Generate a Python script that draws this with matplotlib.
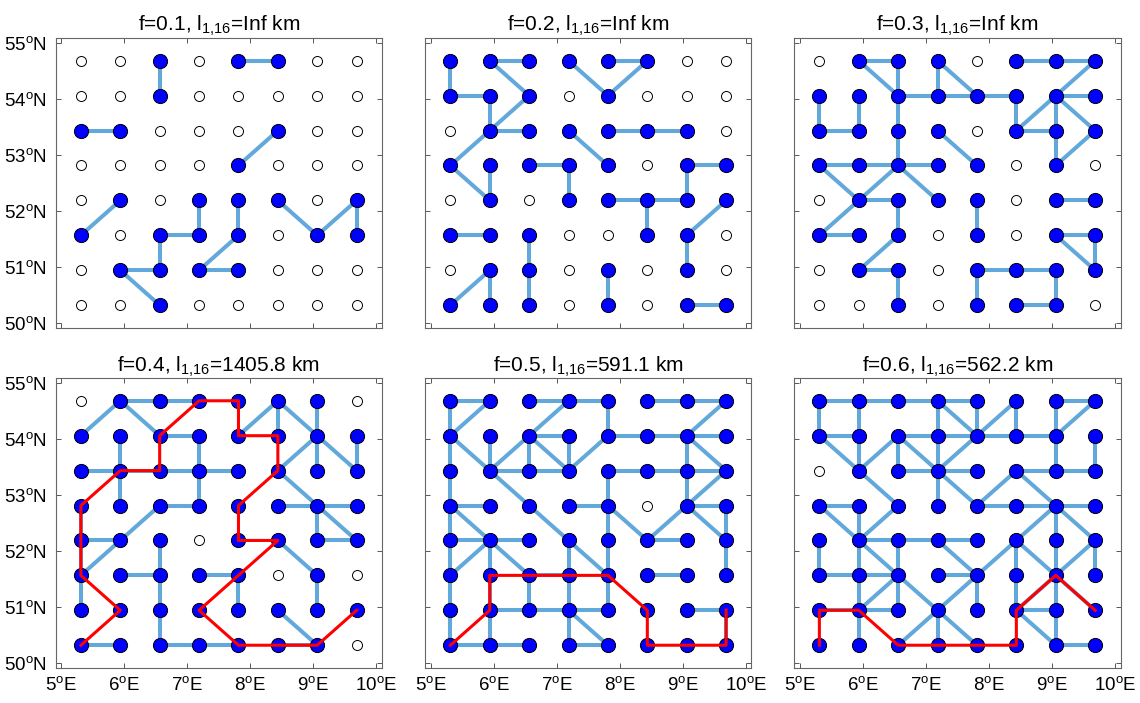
import matplotlib
matplotlib.use('Agg')
import matplotlib.pyplot as plt

plt.rcParams['font.family'] = ['Liberation Sans', 'DejaVu Sans']
plt.rcParams['mathtext.fontset'] = 'custom'
plt.rcParams['mathtext.rm'] = 'Liberation Sans'
plt.rcParams['mathtext.it'] = 'Liberation Sans:italic'

# grid node centres (8 x 8)
lons = [5.3125, 5.9375, 6.5625, 7.1875, 7.8125, 8.4375, 9.0625, 9.6875]
lats = [50.3125, 50.9375, 51.5625, 52.1875, 52.8125, 53.4375, 54.0625, 54.6875]

fractions = [0.1, 0.2, 0.3, 0.4, 0.5, 0.6]
path_lengths = ['Inf', 'Inf', 'Inf', '1405.8', '591.1', '562.2']

# active nodes, rows listed from top (north) to bottom (south)
active1 = ['00101100', '00100000', '11000100', '00001000',
           '01011101', '10111011', '01111000', '00100000']
active2 = ['11111100', '11101000', '01111110', '11111011',
           '01011111', '11100110', '01101010', '11101011']
active3 = ['01110111', '11111111', '11110111', '11111010',
           '01111011', '11101011', '01101111', '00101110']
active4 = ['01111110', '11111111', '11111111', '11111111',
           '11101111', '11111010', '11111111', '11111110']
active5 = ['11111111', '11111111', '11111111', '11111011',
           '11111111', '11111111', '11111111', '11111111']
active6 = ['11111111', '11111111', '01111111', '11111111',
           '11111111', '11111111', '11111111', '11111111']

# links as (col1, row1, col2, row2), row 0 = south
links1 = [(2, 7, 2, 6), (4, 7, 5, 7), (0, 5, 1, 5), (4, 4, 5, 5), (0, 2, 1, 3),
          (3, 3, 3, 2), (2, 2, 3, 2), (2, 2, 2, 1), (1, 1, 2, 1), (1, 1, 2, 0),
          (4, 3, 4, 2), (3, 1, 4, 2), (3, 1, 4, 1), (5, 3, 6, 2), (6, 2, 7, 3),
          (7, 3, 7, 2)]
links2 = [(0, 7, 0, 6), (1, 7, 2, 7), (1, 7, 2, 6), (3, 7, 4, 6), (4, 7, 5, 7),
          (4, 6, 5, 7), (0, 6, 1, 6), (1, 6, 1, 5), (2, 6, 1, 5), (1, 5, 2, 5),
          (1, 5, 0, 4), (0, 4, 1, 3), (1, 4, 1, 3), (2, 4, 3, 4), (3, 4, 3, 3),
          (3, 5, 4, 4), (4, 5, 5, 5), (5, 5, 6, 5), (6, 4, 7, 4), (6, 4, 6, 3),
          (4, 3, 5, 3), (5, 3, 6, 3), (5, 3, 5, 2), (7, 3, 6, 2), (6, 2, 6, 1),
          (0, 2, 1, 2), (2, 2, 2, 1), (2, 1, 2, 0), (1, 1, 0, 0), (1, 1, 1, 0),
          (4, 1, 4, 0), (6, 0, 7, 0)]
links3 = [(1, 7, 2, 7), (1, 7, 2, 6), (2, 7, 2, 6), (3, 7, 3, 6), (3, 7, 4, 6),
          (5, 7, 6, 7), (6, 7, 7, 7), (7, 7, 6, 6), (2, 6, 3, 6), (3, 6, 4, 6),
          (4, 6, 5, 6), (6, 6, 7, 6), (0, 6, 0, 5), (1, 6, 1, 5), (0, 5, 1, 5),
          (2, 6, 2, 5), (2, 5, 2, 4), (5, 6, 5, 5), (5, 5, 6, 6), (5, 5, 6, 5),
          (6, 6, 6, 5), (6, 6, 7, 5), (6, 5, 6, 4), (7, 5, 6, 4), (3, 5, 4, 4),
          (0, 4, 1, 4), (1, 4, 2, 4), (2, 4, 3, 4), (0, 4, 1, 3), (2, 4, 1, 3),
          (2, 4, 3, 3), (1, 3, 2, 3), (1, 3, 0, 2), (2, 3, 2, 2), (0, 2, 1, 2),
          (2, 2, 1, 1), (1, 1, 2, 1), (2, 1, 2, 0), (4, 3, 4, 2), (6, 3, 7, 3),
          (6, 2, 7, 2), (6, 2, 7, 1), (7, 2, 7, 1), (4, 1, 5, 1), (5, 1, 6, 1),
          (4, 1, 4, 0), (6, 1, 6, 0), (5, 0, 6, 0)]
links4 = [(0, 6, 1, 7), (1, 7, 2, 7), (2, 7, 3, 7), (1, 7, 2, 6), (2, 6, 3, 6),
          (3, 6, 3, 5), (1, 6, 1, 5), (0, 5, 1, 5), (1, 5, 2, 5), (2, 5, 3, 5),
          (3, 5, 4, 5), (1, 5, 1, 4), (3, 5, 3, 4), (2, 4, 3, 4), (2, 4, 1, 3),
          (1, 3, 0, 2), (0, 3, 1, 3), (0, 4, 0, 3), (0, 3, 0, 2), (0, 2, 0, 1),
          (0, 0, 1, 0), (1, 2, 2, 2), (2, 3, 2, 2), (2, 2, 2, 1), (2, 1, 2, 0),
          (2, 0, 3, 0), (3, 0, 4, 0), (3, 2, 4, 2), (4, 2, 4, 1), (4, 6, 5, 7),
          (5, 7, 5, 6), (5, 7, 6, 6), (6, 7, 6, 6), (6, 6, 6, 5), (6, 6, 5, 5),
          (6, 6, 7, 5), (7, 6, 7, 5), (5, 5, 6, 4), (5, 4, 6, 4), (6, 4, 7, 4),
          (6, 4, 6, 3), (6, 4, 7, 3), (6, 3, 7, 3), (5, 3, 6, 2), (6, 2, 6, 1),
          (5, 1, 6, 0), (5, 0, 6, 0)]
links5 = [(0, 7, 1, 7), (0, 7, 0, 6), (1, 7, 0, 6), (2, 7, 3, 7), (3, 7, 4, 7),
          (3, 7, 2, 6), (4, 7, 4, 6), (5, 7, 6, 7), (6, 7, 7, 7), (7, 7, 6, 6),
          (2, 6, 3, 6), (2, 6, 1, 5), (2, 6, 2, 5), (2, 6, 3, 5), (3, 6, 3, 5),
          (3, 5, 4, 6), (4, 6, 5, 6), (5, 6, 6, 6), (6, 6, 7, 6), (6, 6, 6, 5),
          (6, 6, 7, 5), (0, 6, 0, 5), (0, 6, 1, 5), (1, 5, 2, 4), (2, 4, 3, 3),
          (3, 3, 4, 2), (1, 6, 1, 5), (1, 5, 2, 5), (2, 5, 3, 5), (0, 5, 0, 4),
          (0, 4, 1, 4), (0, 4, 0, 3), (0, 4, 1, 3), (3, 4, 4, 4), (4, 5, 5, 5),
          (5, 5, 6, 5), (4, 5, 4, 4), (4, 4, 4, 3), (4, 4, 5, 3), (5, 3, 6, 4),
          (5, 3, 6, 3), (6, 5, 7, 5), (6, 5, 6, 4), (6, 4, 7, 4), (6, 4, 7, 3),
          (7, 5, 6, 4), (7, 4, 7, 3), (7, 3, 7, 2), (0, 3, 1, 3), (1, 3, 2, 3),
          (0, 3, 0, 2), (1, 3, 0, 2), (1, 3, 1, 2), (1, 3, 2, 2), (3, 3, 3, 2),
          (4, 3, 4, 2), (4, 2, 4, 1), (0, 2, 0, 1), (0, 1, 0, 0), (1, 2, 1, 1),
          (2, 2, 2, 1), (3, 2, 3, 1), (1, 1, 2, 1), (2, 1, 3, 1), (3, 1, 4, 1),
          (3, 1, 3, 0), (3, 1, 4, 0), (1, 1, 1, 0), (0, 0, 1, 0), (1, 0, 2, 0),
          (3, 0, 4, 0), (5, 2, 6, 2), (6, 1, 7, 1), (7, 1, 7, 0), (2, 2, 3, 2)]
links6 = [(0, 7, 1, 7), (1, 7, 2, 7), (2, 7, 3, 7), (3, 7, 4, 7), (0, 7, 0, 6),
          (1, 7, 1, 6), (3, 7, 3, 6), (3, 7, 4, 6), (4, 7, 4, 6), (5, 7, 4, 6),
          (4, 6, 3, 5), (5, 7, 5, 6), (6, 7, 7, 7), (6, 7, 6, 6), (7, 7, 6, 6),
          (0, 6, 1, 6), (1, 6, 1, 5), (0, 6, 1, 5), (2, 6, 3, 6), (3, 6, 4, 6),
          (4, 6, 5, 6), (5, 6, 6, 6), (2, 6, 1, 5), (2, 6, 2, 5), (2, 6, 3, 5),
          (3, 6, 3, 5), (7, 6, 7, 5), (6, 6, 6, 5), (2, 5, 3, 5), (3, 5, 4, 5),
          (3, 5, 3, 4), (3, 5, 4, 4), (4, 4, 5, 5), (5, 5, 6, 5), (6, 5, 7, 5),
          (5, 5, 6, 4), (1, 5, 2, 4), (2, 4, 1, 3), (0, 4, 1, 4), (0, 4, 1, 3),
          (1, 4, 1, 3), (4, 4, 5, 4), (5, 4, 6, 4), (6, 4, 7, 4), (6, 4, 6, 3),
          (6, 4, 5, 3), (6, 4, 7, 3), (1, 3, 2, 3), (2, 3, 3, 3), (3, 3, 4, 3),
          (0, 3, 0, 2), (1, 3, 1, 2), (1, 3, 2, 2), (2, 3, 2, 2), (3, 3, 4, 2),
          (5, 3, 4, 2), (5, 3, 5, 2), (5, 3, 6, 2), (6, 3, 6, 2), (7, 3, 6, 2),
          (7, 3, 7, 2), (0, 2, 1, 2), (1, 2, 2, 2), (1, 2, 1, 1), (2, 2, 1, 1),
          (2, 2, 2, 1), (2, 2, 3, 1), (3, 2, 4, 2), (4, 2, 3, 1), (4, 2, 4, 1),
          (5, 2, 5, 1), (6, 2, 6, 1), (6, 2, 7, 1), (6, 2, 5, 1), (1, 1, 2, 1),
          (1, 1, 1, 0), (3, 1, 3, 0), (3, 1, 2, 0), (3, 1, 4, 0), (5, 1, 6, 1),
          (5, 1, 6, 0), (6, 1, 6, 0), (6, 0, 7, 0), (0, 1, 1, 1)]

# shortest path between node 1 and node 16 (col, row)
path4 = [(0, 0), (1, 1), (0, 2), (0, 3), (0, 4), (1, 5), (2, 5), (2, 6), (3, 7),
         (4, 7), (4, 6), (5, 6), (5, 5), (4, 4), (4, 3), (5, 3), (4, 2), (3, 1),
         (4, 0), (5, 0), (6, 0), (7, 1)]
path5 = [(0, 0), (1, 1), (1, 2), (2, 2), (3, 2), (4, 2), (5, 1), (5, 0), (6, 0),
         (7, 0), (7, 1)]
path6 = [(0, 0), (0, 1), (1, 1), (2, 0), (3, 0), (4, 0), (5, 0), (5, 1), (6, 2),
         (7, 1)]

actives = [active1, active2, active3, active4, active5, active6]
links = [links1, links2, links3, links4, links5, links6]
paths = [None, None, None, path4, path5, path6]

xticks = [5, 6, 7, 8, 9, 10]
yticks = [50, 51, 52, 53, 54, 55]

fig = plt.figure(figsize=(11.4, 7.03), dpi=100)
lefts = [0.0487, 0.3728, 0.6965]
bottoms = [0.5339, 0.0502]
w, h = 0.2864, 0.4117

for k in range(6):
    ax = fig.add_axes([lefts[k % 3], bottoms[k // 3], w, h])
    for c1, r1, c2, r2 in links[k]:
        ax.plot([lons[c1], lons[c2]], [lats[r1], lats[r2]], color='#62a8da',
                lw=2.9, solid_capstyle='butt', zorder=1)
    on_x, on_y, off_x, off_y = [], [], [], []
    for i, row in enumerate(actives[k]):
        r = 7 - i
        for c, v in enumerate(row):
            if v == '1':
                on_x.append(lons[c]); on_y.append(lats[r])
            else:
                off_x.append(lons[c]); off_y.append(lats[r])
    ax.plot(off_x, off_y, 'o', ms=7.2, mfc='white', mec='black', mew=0.7, zorder=2)
    ax.plot(on_x, on_y, 'o', ms=10.2, mfc='#0000ff', mec='black', mew=0.7, zorder=2)
    if paths[k] is not None:
        px = [lons[c] for c, r in paths[k]]
        py = [lats[r] for c, r in paths[k]]
        ax.plot(px, py, color='red', lw=2.2, zorder=3)

    ax.set_xlim(4.91, 10.09)
    ax.set_ylim(49.91, 55.09)
    ax.set_xticks(xticks)
    ax.set_yticks(yticks)
    ax.tick_params(direction='in', length=3.5, width=0.7, color='#555555',
                   top=True, right=True, labelsize=13.5, pad=6)
    if k >= 3:
        ax.set_xticklabels([r'%d$^{\mathrm{o}}$E' % v for v in xticks])
    else:
        ax.set_xticklabels([])
    if k % 3 == 0:
        ax.set_yticklabels([r'%d$^{\mathrm{o}}$N' % v for v in yticks])
    else:
        ax.set_yticklabels([])
    for s in ax.spines.values():
        s.set_color('#666666')
        s.set_linewidth(0.8)
    ax.set_title(r'f=%.1f, l$_{1{,}16}$=%s km' % (fractions[k], path_lengths[k]),
                 fontsize=15, pad=5)

fig.savefig('out.png', dpi=100)
